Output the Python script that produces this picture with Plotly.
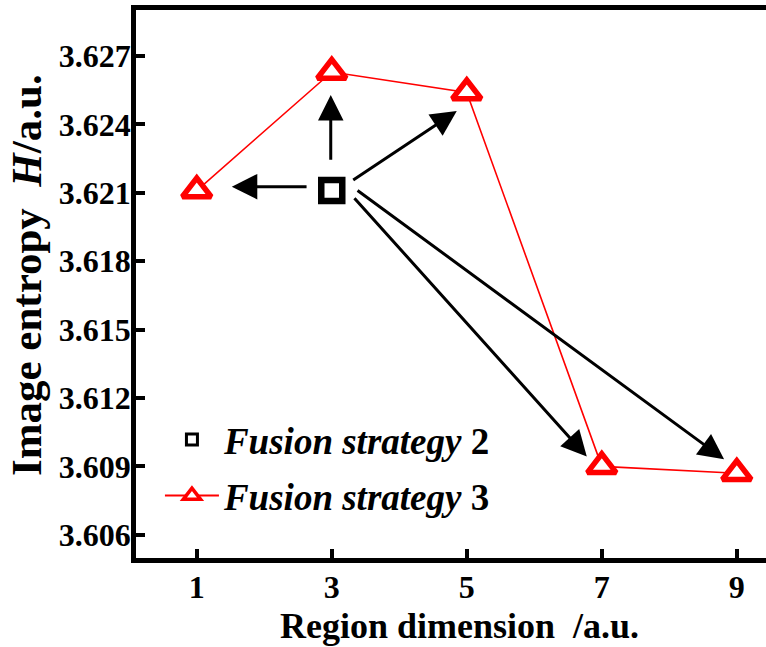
import plotly.graph_objects as go

# Region dimension (x) and image entropy values
region_dim = [1, 3, 5, 7, 9]
entropy_s3 = [3.6211, 3.6263, 3.6254, 3.6090, 3.6087]
dim_s2 = [3]
entropy_s2 = [3.6211]

x_ticks = [1, 3, 5, 7, 9]
y_ticks = [3.606, 3.609, 3.612, 3.615, 3.618, 3.621, 3.624, 3.627]

# Arrows from the strategy-2 point toward each strategy-3 point (data coordinates)
arrow_tail_x = [2.649, 2.985, 3.296, 3.316, 3.360]
arrow_tail_y = [3.62127, 3.62239, 3.62152, 3.62083, 3.62115]
arrow_head_x = [1.519, 2.985, 4.852, 6.778, 8.812]
arrow_head_y = [3.62127, 3.62529, 3.62459, 3.60943, 3.60931]

FONT = "Liberation Serif"

fig = go.Figure()

# Strategy 3: red line with hollow triangles
fig.add_trace(go.Scatter(
    x=region_dim, y=entropy_s3, mode="lines+markers", showlegend=False,
    line=dict(color="#ff0000", width=1.6),
    marker=dict(symbol="triangle-up", size=25, color="white",
                line=dict(color="#ff0000", width=5.5)),
))

# Strategy 2: single hollow square
fig.add_trace(go.Scatter(
    x=dim_s2, y=entropy_s2, mode="markers", showlegend=False,
    marker=dict(symbol="square", size=21, color="white",
                line=dict(color="black", width=6.5)),
))

# Legend entries (smaller symbols)
fig.add_trace(go.Scatter(
    x=[None], y=[None], mode="markers", legendgroup="a",
    name="<i>Fusion strategy</i> 2",
    marker=dict(symbol="square", size=11, color="white",
                line=dict(color="black", width=3)),
))
fig.add_trace(go.Scatter(
    x=[None], y=[None], mode="lines+markers", legendgroup="b",
    name="<i>Fusion strategy</i> 3",
    line=dict(color="#ff0000", width=2),
    marker=dict(symbol="triangle-up", size=15, color="white",
                line=dict(color="#ff0000", width=3.5)),
))

for tx, ty, hx, hy in zip(arrow_tail_x, arrow_tail_y, arrow_head_x, arrow_head_y):
    fig.add_annotation(
        x=hx, y=hy, ax=tx, ay=ty, xref="x", yref="y", axref="x", ayref="y",
        showarrow=True, arrowhead=2, arrowsize=1.7, arrowwidth=3,
        arrowcolor="black", text="",
    )

# Axis titles
fig.add_annotation(
    text="Region dimension\u00a0\u00a0/a.u.", xref="paper", yref="paper",
    x=0.514, y=-0.124, xanchor="center", yanchor="middle", showarrow=False,
    borderpad=0, font=dict(family=FONT, size=36, weight="bold"),
)
fig.add_annotation(
    text="Image entropy\u00a0\u00a0<i>H</i>/a.u.", xref="paper", yref="paper",
    x=-0.174, y=0.517, xanchor="center", yanchor="middle", showarrow=False,
    borderpad=0, textangle=-90, font=dict(family=FONT, size=43, weight="bold"),
)

fig.update_layout(
    width=766, height=647,
    margin=dict(l=136, r=0, t=10, b=89),
    plot_bgcolor="white", paper_bgcolor="white",
    font=dict(family=FONT, color="black", size=30, weight="bold"),
    legend=dict(
        x=0.038, y=0.272, xanchor="left", yanchor="top",
        bgcolor="rgba(0,0,0,0)", tracegroupgap=5, itemwidth=54,
        font=dict(family=FONT, size=37, weight="bold"),
    ),
    xaxis=dict(
        range=[0.1, 9.433], tickvals=x_ticks,
        ticks="inside", ticklen=9, tickwidth=4, tickcolor="black",
        showline=True, linewidth=4.5, linecolor="black", mirror=True,
        showgrid=False, zeroline=False, ticklabelstandoff=-3,
        tickfont=dict(family=FONT, size=32, weight="bold"),
    ),
    yaxis=dict(
        range=[3.60498, 3.62902], tickvals=y_ticks,
        tickformat=".3f",
        ticks="inside", ticklen=9, tickwidth=4, tickcolor="black",
        showline=True, linewidth=4.5, linecolor="black", mirror=False,
        showgrid=False, zeroline=False, ticklabelstandoff=-6,
        tickfont=dict(family=FONT, size=32, weight="bold"),
    ),
)

fig.write_html("out.html")
